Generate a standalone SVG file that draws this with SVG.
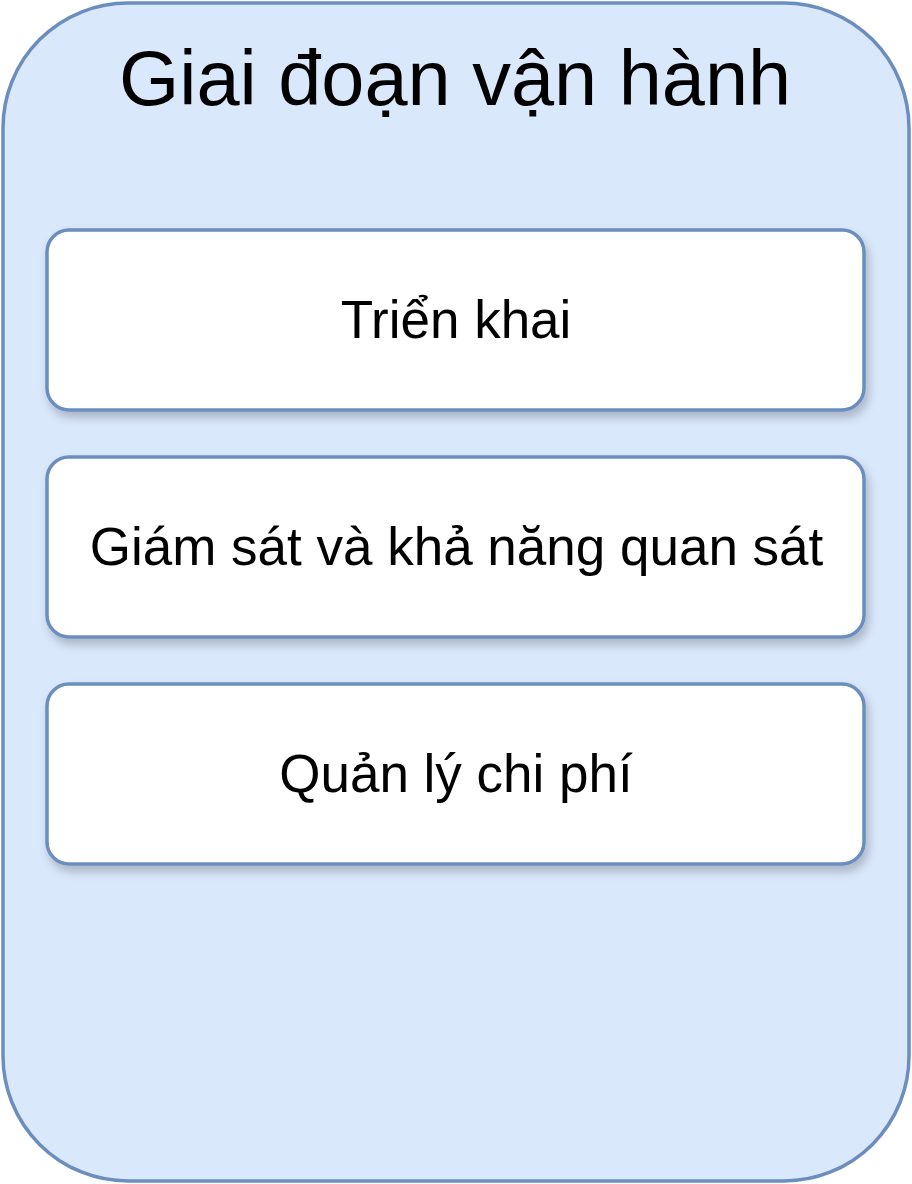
<svg xmlns="http://www.w3.org/2000/svg" width="912" height="1184" viewBox="0 0 912 1184">
  <style>
    .container { fill: #dae8fc; stroke: #6c8ebf; stroke-width: 3.5; }
    .box { fill: #ffffff; stroke: #6c8ebf; stroke-width: 3.5; filter: url(#shadow); }
    .title { font-family: "Liberation Sans", Arial, sans-serif; font-size: 77.5px; fill: #000000; text-anchor: middle; }
    .label { font-family: "Liberation Sans", Arial, sans-serif; font-size: 53px; fill: #000000; text-anchor: middle; }
  </style>
  <defs>
    <filter id="shadow" x="-10%" y="-20%" width="125%" height="150%">
      <feDropShadow dx="3" dy="6" stdDeviation="5" flood-color="#000000" flood-opacity="0.22"/>
    </filter>
  </defs>
  <rect width="912" height="1184" fill="#ffffff"/>
  <g id="container">
    <rect class="container" x="3" y="3" width="906" height="1178" rx="125" ry="125"/>
    <text class="title" x="455" y="105">Giai đoạn vận hành</text>
  </g>
  <g id="node-trien-khai">
    <rect class="box" x="47" y="230" width="817" height="180" rx="22" ry="22"/>
    <text class="label" x="456" y="338">Triển khai</text>
  </g>
  <g id="node-giam-sat">
    <rect class="box" x="47" y="457" width="817" height="180" rx="22" ry="22"/>
    <text class="label" x="456.5" y="565">Giám sát và khả năng quan sát</text>
  </g>
  <g id="node-quan-ly-chi-phi">
    <rect class="box" x="47" y="684" width="817" height="180" rx="22" ry="22"/>
    <text class="label" x="456" y="792">Quản lý chi phí</text>
  </g>
  <g id="connectors"></g>
</svg>
